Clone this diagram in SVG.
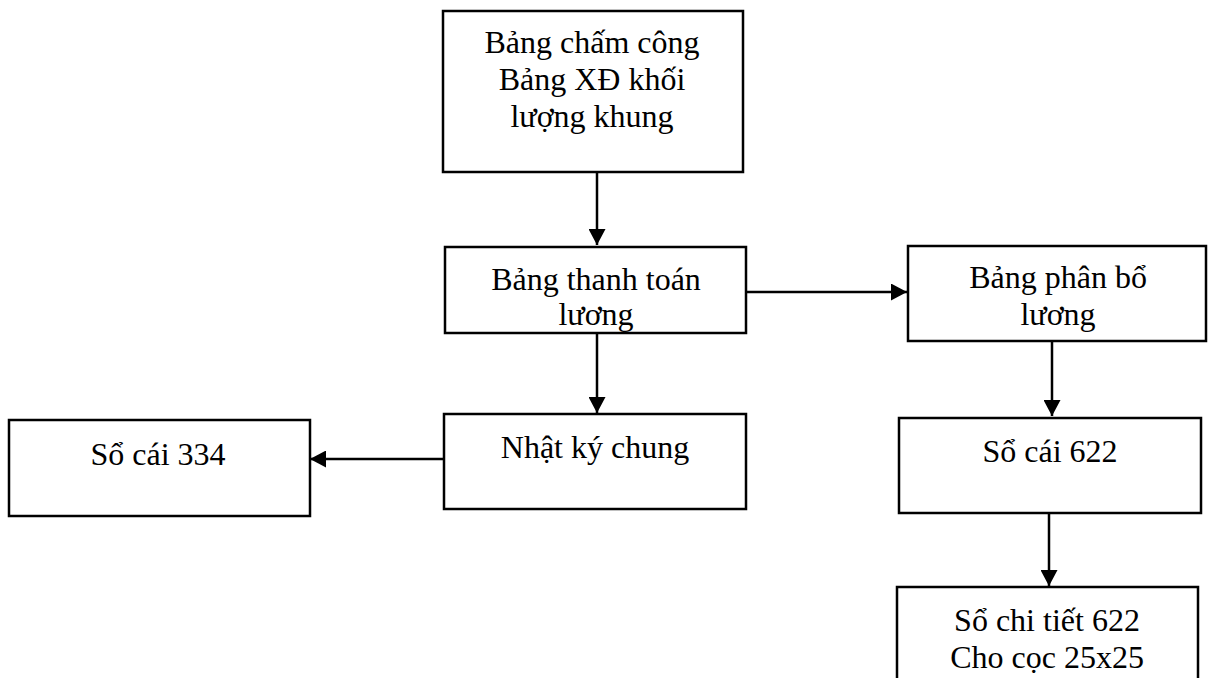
<svg xmlns="http://www.w3.org/2000/svg" width="1208" height="678" viewBox="0 0 1208 678">
<style>
.box{fill:#fff;stroke:#000;stroke-width:2.5}
.t{font-family:"Liberation Serif","Times New Roman",serif;font-size:32px;fill:#000;text-anchor:middle}
.c{stroke:#000;stroke-width:2.5;fill:none}
</style>
<defs>
<marker id="ah" viewBox="0 0 16 17" refX="16" refY="8.5" markerWidth="16" markerHeight="17" markerUnits="userSpaceOnUse" orient="auto">
<path d="M0,0 L16,8.5 L0,17 z" fill="#000"/>
</marker>
</defs>
<rect width="1208" height="678" fill="#fff"/>
<g id="n1">
<rect class="box" x="443" y="11" width="300" height="161"/>
<text class="t" x="592" y="53">Bảng chấm công</text>
<text class="t" x="592" y="90">Bảng XĐ khối</text>
<text class="t" x="592" y="127">lượng khung</text>
</g>
<g id="n2">
<rect class="box" x="445" y="247" width="301" height="86"/>
<text class="t" x="596" y="290">Bảng thanh toán</text>
<text class="t" x="596" y="325">lương</text>
</g>
<g id="n3">
<rect class="box" x="908" y="246" width="298" height="95"/>
<text class="t" x="1058" y="288">Bảng phân bổ</text>
<text class="t" x="1058" y="325">lương</text>
</g>
<g id="n4">
<rect class="box" x="9" y="420" width="301" height="96"/>
<text class="t" x="158" y="465">Sổ cái 334</text>
</g>
<g id="n5">
<rect class="box" x="444" y="414" width="302" height="95"/>
<text class="t" x="595" y="458">Nhật ký chung</text>
</g>
<g id="n6">
<rect class="box" x="899" y="418" width="302" height="95"/>
<text class="t" x="1050" y="462">Sổ cái 622</text>
</g>
<g id="n7">
<rect class="box" x="897" y="587" width="301" height="100"/>
<text class="t" x="1047" y="631">Sổ chi tiết 622</text>
<text class="t" x="1047" y="668">Cho cọc 25x25</text>
</g>
<g id="connectors">
<line class="c" x1="597" y1="172" x2="597" y2="245" marker-end="url(#ah)"/>
<line class="c" x1="746" y1="292" x2="907" y2="292" marker-end="url(#ah)"/>
<line class="c" x1="597" y1="333" x2="597" y2="413" marker-end="url(#ah)"/>
<line class="c" x1="444" y1="459" x2="310" y2="459" marker-end="url(#ah)"/>
<line class="c" x1="1052" y1="341" x2="1052" y2="416" marker-end="url(#ah)"/>
<line class="c" x1="1049" y1="513" x2="1049" y2="586" marker-end="url(#ah)"/>
</g>
</svg>
